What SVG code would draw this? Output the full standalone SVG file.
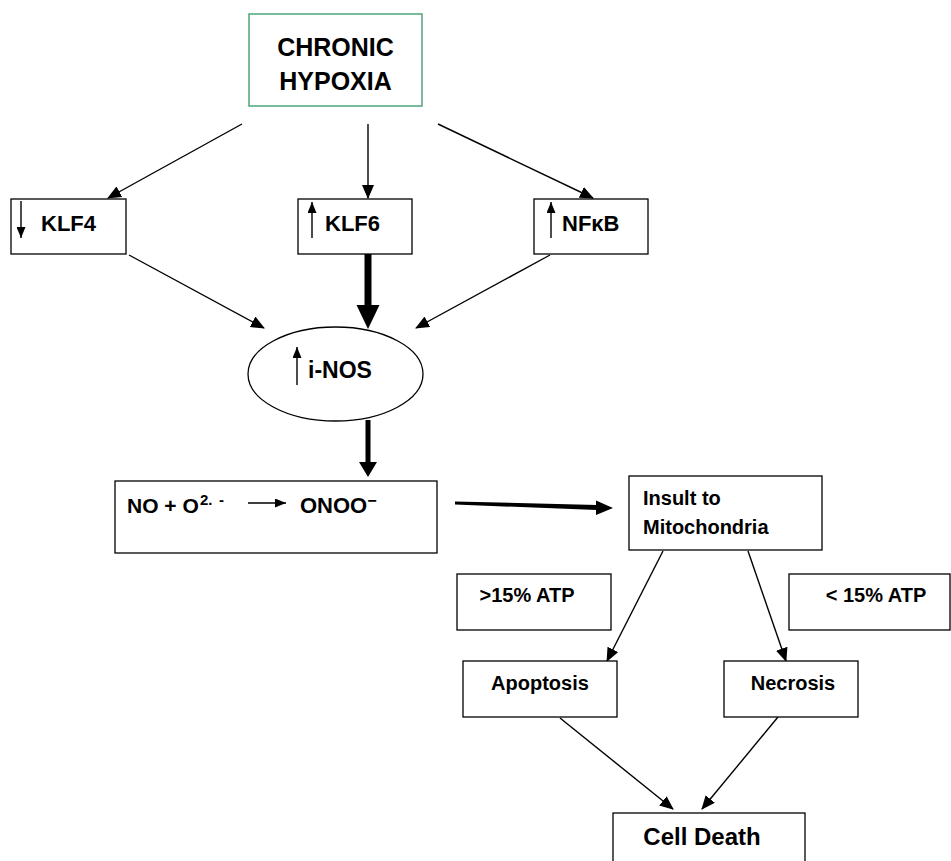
<svg xmlns="http://www.w3.org/2000/svg" width="951" height="861" viewBox="0 0 951 861">
<style>
  .box { fill: #fff; stroke: #000; stroke-width: 1.3; }
  .hyp { fill: #fff; stroke: #4fa57c; stroke-width: 1.5; }
  .lbl { font-family: "Liberation Sans", Arial, sans-serif; font-weight: bold; fill: #000; }
  .con { stroke: #000; stroke-width: 1.4; fill: none; marker-end: url(#ah); }
  .mini { stroke: #000; stroke-width: 1.4; fill: none; marker-end: url(#ahs); }
</style>
<defs>
  <marker id="ah" markerUnits="userSpaceOnUse" markerWidth="14" markerHeight="12" viewBox="0 0 14 12" refX="13" refY="6" orient="auto">
    <path d="M0,0 L14,6 L0,12 Z" fill="#000"/>
  </marker>
  <marker id="ahs" markerUnits="userSpaceOnUse" markerWidth="11" markerHeight="9" viewBox="0 0 11 9" refX="11" refY="4.5" orient="auto">
    <path d="M0,0 L11,4.5 L0,9 Z" fill="#000"/>
  </marker>
</defs>
<rect width="951" height="861" fill="#fff"/>

<g id="connectors">
  <line class="con" x1="242" y1="124" x2="108" y2="198"/>
  <line class="con" x1="368" y1="124" x2="368" y2="198"/>
  <line class="con" x1="438" y1="124" x2="593" y2="198"/>
  <line class="con" x1="129" y1="255" x2="264" y2="328"/>
  <line class="con" x1="550" y1="255" x2="416" y2="328"/>
  <!-- thick KLF6 -> iNOS -->
  <rect x="364.5" y="250" width="7" height="56" fill="#000"/>
  <polygon points="356.5,305 379.5,305 368,329" fill="#000"/>
  <!-- thick iNOS -> NO box -->
  <rect x="365.5" y="420" width="5" height="44" fill="#000"/>
  <polygon points="359,462 377,462 368,477" fill="#000"/>
  <!-- thick NO box -> Insult -->
  <polygon points="455,501.5 597,505 597,510 455,504.5" fill="#000"/>
  <polygon points="596,500.5 613,508 596,515" fill="#000"/>
  <line class="con" x1="663" y1="551" x2="607" y2="661"/>
  <line class="con" x1="748" y1="551" x2="786" y2="661"/>
  <line class="con" x1="560" y1="718" x2="673" y2="809"/>
  <line class="con" x1="778" y1="717" x2="702" y2="809"/>
</g>

<g id="hypoxia">
  <rect class="hyp" x="249" y="14" width="173" height="92"/>
  <text class="lbl" x="335.5" y="56" font-size="25" text-anchor="middle">CHRONIC</text>
  <text class="lbl" x="335.5" y="90" font-size="25" text-anchor="middle">HYPOXIA</text>
</g>

<g id="klf4">
  <rect class="box" x="11" y="199" width="115" height="55"/>
  <line class="mini" x1="21" y1="201" x2="21" y2="238"/>
  <text class="lbl" x="41" y="231" font-size="22">KLF4</text>
</g>

<g id="klf6">
  <rect class="box" x="298" y="199" width="114" height="55"/>
  <line class="mini" x1="312" y1="238" x2="312" y2="202"/>
  <text class="lbl" x="325" y="231" font-size="22">KLF6</text>
</g>

<g id="nfkb">
  <rect class="box" x="534" y="199" width="114" height="55"/>
  <line class="mini" x1="551" y1="238" x2="551" y2="202"/>
  <text class="lbl" x="562" y="231" font-size="22">NFκB</text>
</g>

<g id="inos">
  <ellipse class="box" cx="335.5" cy="374" rx="87.5" ry="47"/>
  <line class="mini" x1="297" y1="385" x2="297" y2="347"/>
  <text class="lbl" x="308" y="378" font-size="23">i-NOS</text>
</g>

<g id="reaction">
  <rect class="box" x="115" y="481" width="322" height="72"/>
  <text class="lbl" x="127" y="513" font-size="21">NO + O</text>
  <text class="lbl" x="200" y="505" font-size="15">2.<tspan x="219">-</tspan></text>
  <line class="mini" x1="248" y1="503" x2="286" y2="503"/>
  <text class="lbl" x="300" y="513" font-size="22">ONOO<tspan font-size="16" dy="-7">−</tspan></text>
</g>

<g id="insult">
  <rect class="box" x="629" y="476" width="193" height="74"/>
  <text class="lbl" x="643" y="505" font-size="20">Insult to</text>
  <text class="lbl" x="643" y="534" font-size="20">Mitochondria</text>
</g>

<g id="atp-high">
  <rect class="box" x="457" y="574" width="154" height="56"/>
  <text class="lbl" x="527" y="602" font-size="20" text-anchor="middle">&gt;15% ATP</text>
</g>

<g id="atp-low">
  <rect class="box" x="789" y="574" width="161" height="56"/>
  <text class="lbl" x="876" y="602" font-size="20" text-anchor="middle">&lt; 15% ATP</text>
</g>

<g id="apoptosis">
  <rect class="box" x="463" y="661" width="154" height="56"/>
  <text class="lbl" x="540" y="690" font-size="20" text-anchor="middle">Apoptosis</text>
</g>

<g id="necrosis">
  <rect class="box" x="724" y="661" width="134" height="56"/>
  <text class="lbl" x="793" y="690" font-size="20" text-anchor="middle">Necrosis</text>
</g>

<g id="celldeath">
  <rect class="box" x="613" y="813" width="192" height="70"/>
  <text class="lbl" x="702" y="845" font-size="24" text-anchor="middle">Cell Death</text>
</g>
</svg>
